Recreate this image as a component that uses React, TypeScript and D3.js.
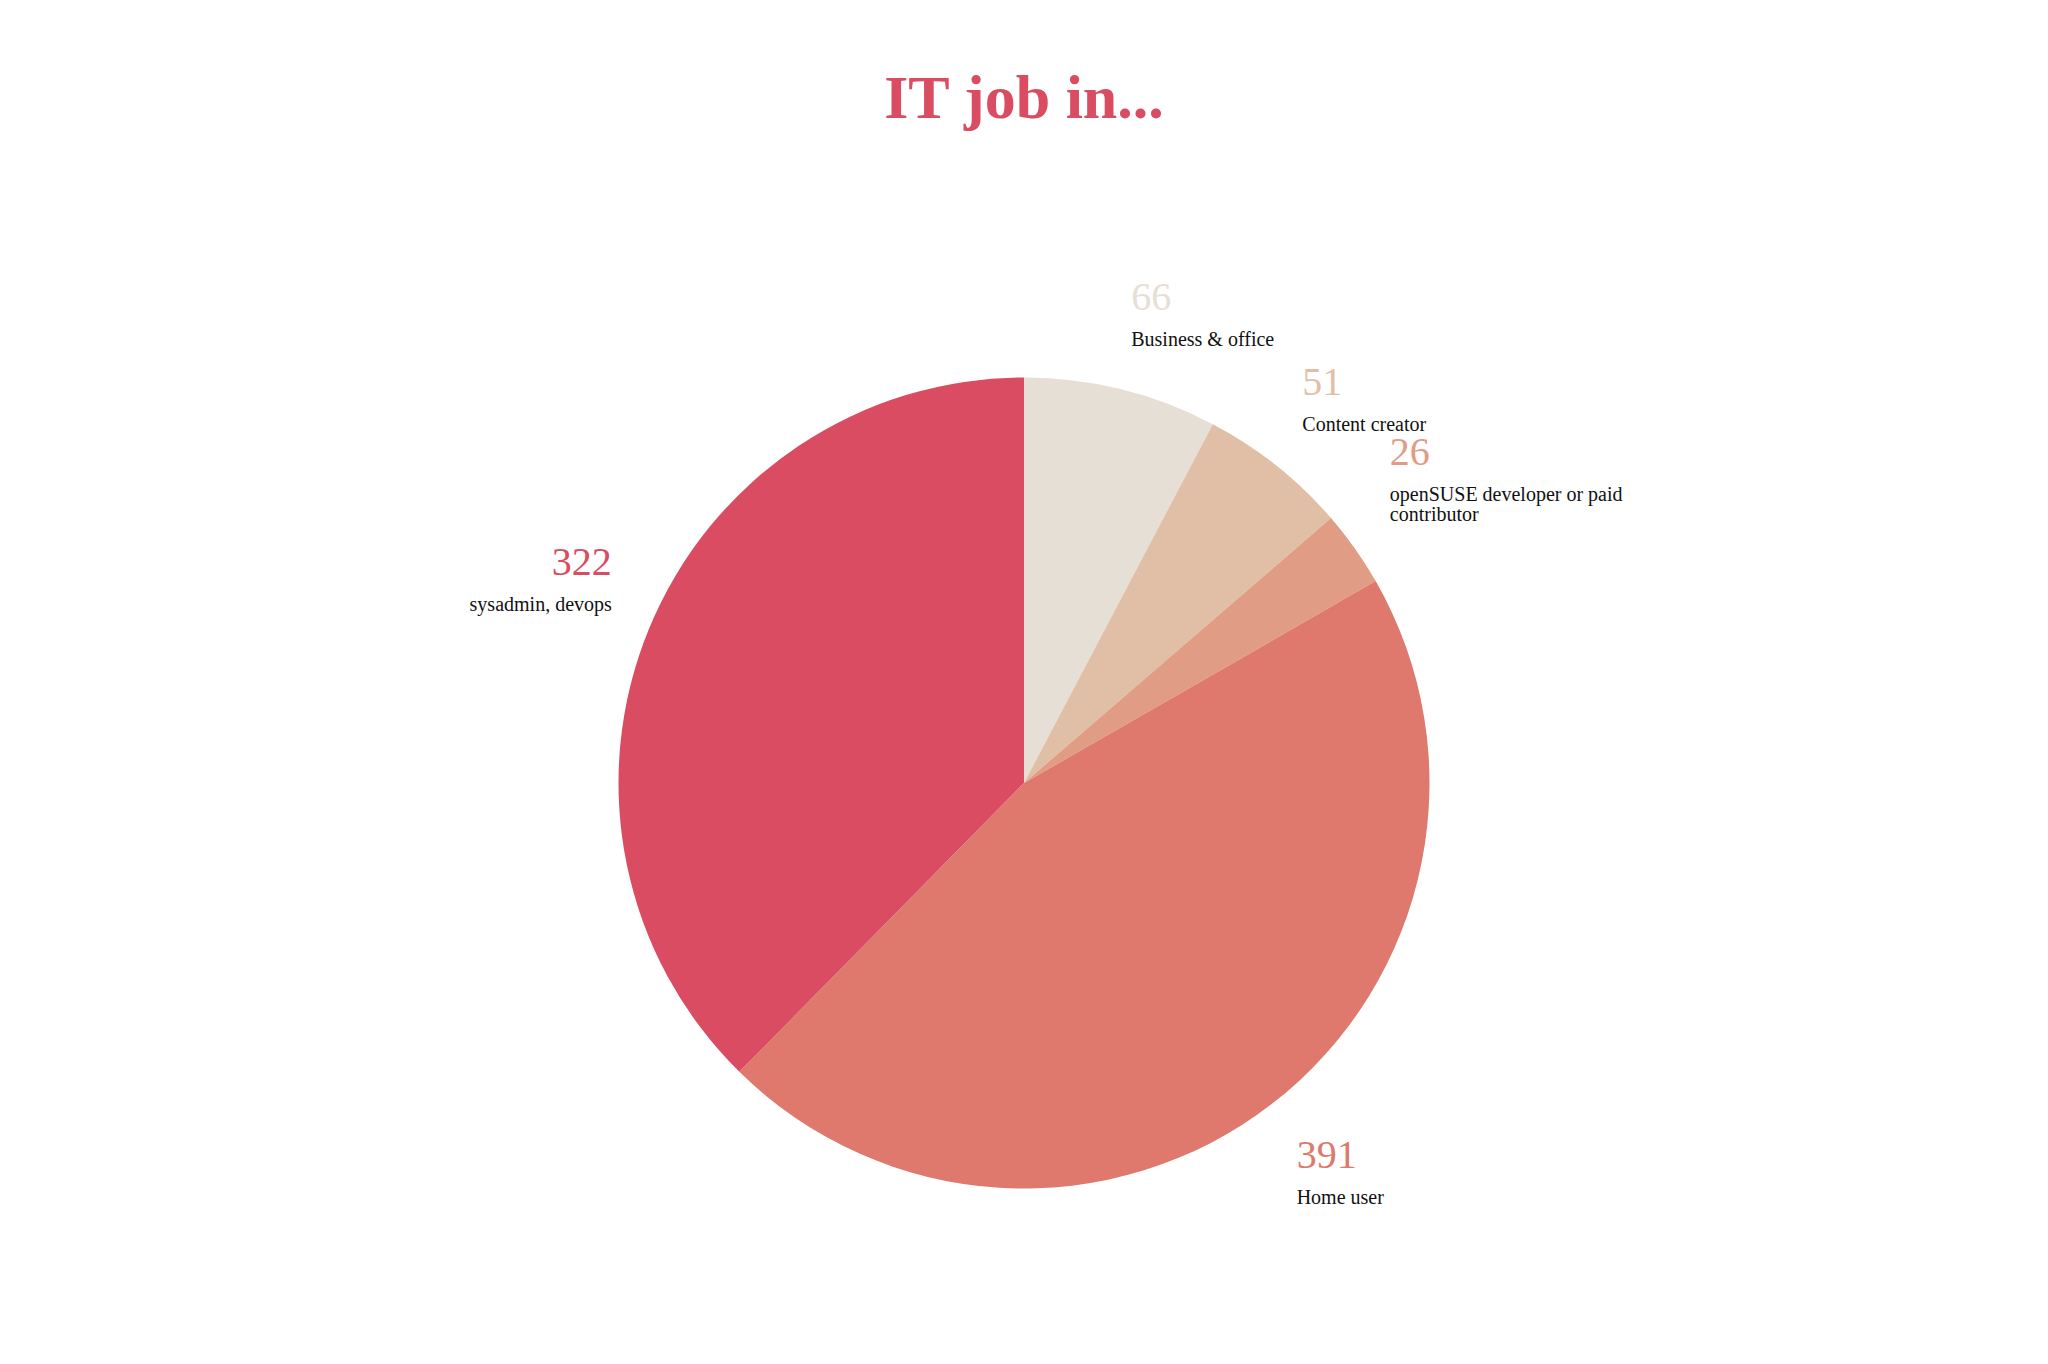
import React from "react";
import * as d3 from "d3";

const categories = ["Business & office", "Content creator", "openSUSE developer or paid contributor", "Home user", "sysadmin, devops"];
const values = [66, 51, 26, 391, 322];
const colors = ["#e6dfd5", "#e1bfa7", "#e09c84", "#df786d", "#d94c61"];
const titleText = "IT job in...";

// label layout nudges (px) relative to the arc's outer mid-point
const labelNudge: [number, number][] = [[10, -79], [26, -71], [35, -84], [25, 64], [-37, -54]];
const labelLines: string[][] = [["Business & office"], ["Content creator"], ["openSUSE developer or paid", "contributor"], ["Home user"], ["sysadmin, devops"]];

const W = 2048, H = 1364;
const cx = 1024, cy = 783, R = 405.5;

export default function App() {
  const pie = d3.pie<number>().sort(null).value((d) => d)(values);
  const arc = d3.arc<d3.PieArcDatum<number>>().innerRadius(0).outerRadius(R);
  const font = "'Liberation Serif', 'Times New Roman', serif";
  return (
    <div style={{ position: "absolute", left: 0, top: 0 }}>
      <svg width={W} height={H} style={{ display: "block", background: "#fff" }}>
        <text x={cx} y={118} textAnchor="middle" fontFamily={font} fontWeight="bold" fontSize={62} fill="#d94c61">
          {titleText}
        </text>
        <g transform={`translate(${cx},${cy})`}>
          {pie.map((p, i) => (
            <path key={categories[i]} d={arc(p) || ""} fill={colors[i]} />
          ))}
        </g>
        {pie.map((p, i) => {
          const mid = (p.startAngle + p.endAngle) / 2;
          const ax = cx + R * Math.sin(mid);
          const ay = cy - R * Math.cos(mid);
          const right = mid < Math.PI;
          const x = ax + labelNudge[i][0];
          const y = ay + labelNudge[i][1];
          return (
            <g key={"l" + i} fontFamily={font} textAnchor={right ? "start" : "end"}>
              <text x={x} y={y} fontSize={40} fill={colors[i]}>
                {values[i]}
              </text>
              {labelLines[i].map((ln, j) => (
                <text key={j} x={x} y={y + 36 + j * 20} fontSize={20} fill="#111">
                  {ln}
                </text>
              ))}
            </g>
          );
        })}
      </svg>
    </div>
  );
}
